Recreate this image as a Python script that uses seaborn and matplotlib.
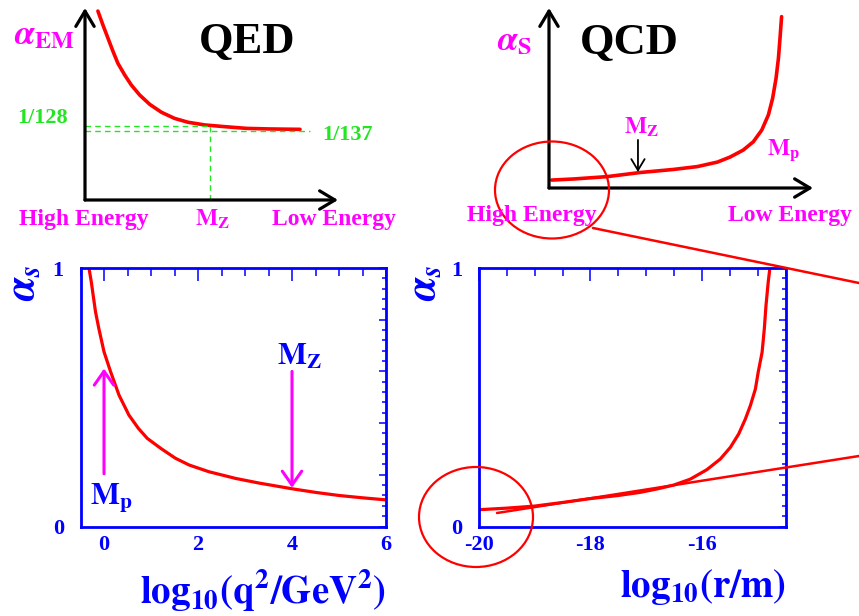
import numpy as np
import pandas as pd
import matplotlib
matplotlib.use("Agg")
import matplotlib.pyplot as plt
import seaborn as sns
from matplotlib.patches import Ellipse
from matplotlib.ticker import MultipleLocator, FixedLocator, FuncFormatter

# ---------------- data ----------------
# bottom-left: alpha_s vs log10(q^2/GeV^2)
q2_log = [-0.32, -0.27, -0.23, -0.18, -0.11, 0.0, 0.14, 0.32, 0.53, 0.73, 0.92, 1.21,
          1.52, 1.81, 2.23, 2.8, 3.3, 4.0, 4.5, 5.0, 5.5, 6.0]
alpha_q2 = [1.0, 0.946, 0.894, 0.83, 0.766, 0.676, 0.599, 0.508, 0.431, 0.38, 0.341, 0.302,
            0.264, 0.238, 0.212, 0.186, 0.168, 0.146, 0.132, 0.12, 0.111, 0.103]

# bottom-right: alpha_s vs log10(r/m)
r_log = [-20.0, -19.5, -19.0, -18.5, -18.0, -17.5, -17.11, -16.81, -16.51, -16.21, -15.91,
         -15.67, -15.49, -15.34, -15.22, -15.13, -15.04, -14.99, -14.92, -14.88, -14.85,
         -14.81, -14.78]
alpha_r = [0.065, 0.071, 0.079, 0.093, 0.108, 0.12, 0.132, 0.145, 0.160, 0.183, 0.220,
           0.261, 0.306, 0.358, 0.416, 0.468, 0.532, 0.597, 0.674, 0.765, 0.855,
           0.946, 1.0]

# top-left schematic (QED), arbitrary units
qed_x = [0.051, 0.071, 0.091, 0.111, 0.130, 0.157, 0.183, 0.216, 0.256, 0.302, 0.354,
         0.407, 0.473, 0.552, 0.639, 0.731, 0.85]
qed_y = [0.984, 0.911, 0.842, 0.773, 0.712, 0.651, 0.599, 0.547, 0.498, 0.457, 0.425,
         0.405, 0.391, 0.382, 0.373, 0.370, 0.368]
qed_level_128 = 0.385
qed_level_137 = 0.359
qed_mz = 0.494
qed_137_end = 0.89

# top-right schematic (QCD), arbitrary units
qcd_x = [0.010, 0.092, 0.219, 0.345, 0.471, 0.562, 0.638, 0.686, 0.736, 0.774, 0.806,
         0.831, 0.847, 0.860, 0.869, 0.875, 0.881]
qcd_y = [0.044, 0.05, 0.063, 0.086, 0.103, 0.119, 0.144, 0.172, 0.211, 0.257, 0.322,
         0.406, 0.498, 0.609, 0.72, 0.832, 0.952]

q2_ticks = [0, 2, 4, 6]
r_ticks = [-20, -18, -16]

# ---------------- style ----------------
sns.set_theme(style="white")
plt.rcParams['font.family'] = ['Liberation Serif', 'DejaVu Serif']
plt.rcParams['font.weight'] = 'bold'
plt.rcParams['mathtext.fontset'] = 'stix'

BLUE = '#0000ff'
RED = '#ff0000'
MAG = '#ff00ff'
GREEN = '#22e622'

W, H = 859, 616
fig = plt.figure(figsize=(W / 100, H / 100), dpi=100)
fig.patch.set_facecolor('white')


def frac(l, t, r, b):
    return [l / W, 1 - b / H, (r - l) / W, (b - t) / H]


ax_qed = fig.add_axes(frac(85, 8, 338, 200))
ax_qcd = fig.add_axes(frac(549, 8, 813, 188))
ax_q2 = fig.add_axes(frac(80.5, 268, 386, 526.5))
ax_r = fig.add_axes(frac(479, 268, 785.5, 526.5))

# ---------------- schematic panels ----------------
arrow_kw = dict(arrowstyle='->,head_length=0.5,head_width=0.3', lw=2.3, color='black',
                mutation_scale=22, shrinkA=0, shrinkB=0)
for ax in (ax_qed, ax_qcd):
    ax.set_xlim(0, 1)
    ax.set_ylim(0, 1)
    ax.axis('off')
    ax.annotate('', xy=(0, 1), xytext=(0, 0), arrowprops=arrow_kw, annotation_clip=False)
    ax.annotate('', xy=(1, 0), xytext=(0, 0), arrowprops=arrow_kw, annotation_clip=False)

sns.lineplot(x=qed_x, y=qed_y, ax=ax_qed, color=RED, lw=2.6, estimator=None, sort=False)
dash = (0, (4, 3))
ax_qed.plot([0, qed_mz], [qed_level_128] * 2, color=GREEN, lw=1, ls=dash)
ax_qed.plot([0, qed_137_end], [qed_level_137] * 2, color=GREEN, lw=1, ls=dash)
ax_qed.plot([qed_mz, qed_mz], [0, qed_level_128], color=GREEN, lw=1, ls=dash)
ax_qed.set_xlim(0, 1)
ax_qed.set_ylim(0, 1)

sns.lineplot(x=qcd_x, y=qcd_y, ax=ax_qcd, color=RED, lw=2.6, estimator=None, sort=False)
ax_qcd.annotate('', xy=(0.337, 0.089), xytext=(0.337, 0.267),
                arrowprops=dict(arrowstyle='->,head_length=0.5,head_width=0.3', lw=1.3,
                                color='black', mutation_scale=16, shrinkA=0, shrinkB=0))
ax_qcd.set_xlim(0, 1)
ax_qcd.set_ylim(0, 1)

# ---------------- real panels ----------------
sns.lineplot(x=q2_log, y=alpha_q2, ax=ax_q2, color=RED, lw=2.3, estimator=None)
sns.lineplot(x=r_log, y=alpha_r, ax=ax_r, color=RED, lw=2.3, estimator=None)

ax_q2.set_xlim(-0.5, 6)
ax_r.set_xlim(-20, -14.5)
for ax, ticks in ((ax_q2, q2_ticks), (ax_r, r_ticks)):
    ax.set_ylim(0, 1)
    ax.xaxis.set_major_locator(FixedLocator(ticks))
    ax.xaxis.set_minor_locator(MultipleLocator(0.5))
    ax.yaxis.set_major_locator(MultipleLocator(0.2))
    ax.yaxis.set_minor_locator(MultipleLocator(0.04))
    ax.yaxis.set_major_formatter(FuncFormatter(
        lambda v, p: ('%d' % round(v)) if abs(v - round(v)) < 1e-6 else ''))
    ax.xaxis.set_major_formatter(FuncFormatter(lambda v, p: '%d' % round(v)))
    for s in ax.spines.values():
        s.set_color(BLUE)
        s.set_linewidth(2.0)
        s.set_visible(True)
    ax.tick_params(which='both', direction='in', top=True, right=True, color=BLUE,
                   width=1.1, labelcolor=BLUE, labelsize=16)
    ax.tick_params(axis='x', which='major', length=9.4, pad=6)
    ax.tick_params(axis='x', which='minor', length=5.8)
    ax.tick_params(axis='y', which='major', length=5, pad=12)
    ax.tick_params(axis='y', which='minor', length=2.9)
    ax.set_ylabel('')
    ax.grid(False)

ax_q2.set_xlabel(r'$\mathbf{log_{10}(q^{2}/GeV^{2})}$', fontsize=28, color=BLUE,
                 loc='right', labelpad=9)
ax_r.set_xlabel(r'$\mathbf{log_{10}(r/m)}$', fontsize=28, color=BLUE,
                loc='right', labelpad=9)

# arrows inside bottom-left panel
mag_arrow = dict(arrowstyle='->,head_length=0.5,head_width=0.35', lw=2.2, color=MAG,
                 mutation_scale=20, shrinkA=0, shrinkB=0)
ax_q2.annotate('', xy=(0, 0.611), xytext=(0, 0.204), arrowprops=mag_arrow)
ax_q2.annotate('', xy=(4, 0.15), xytext=(4, 0.60), arrowprops=mag_arrow)
ax_q2.text(0.15, 0.11, r'$\mathbf{M_p}$', fontsize=22, color=BLUE, ha='center', va='center')
ax_q2.text(4.15, 0.655, r'$\mathbf{M_Z}$', fontsize=22, color=BLUE, ha='center', va='center')

# ---------------- overlay (figure pixel coords) ----------------
ov = fig.add_axes([0, 0, 1, 1])
ov.set_xlim(0, W)
ov.set_ylim(H, 0)
ov.axis('off')

# y labels of real panels
ov.text(24, 283, r'$\alpha_{s}$', fontsize=30, color=BLUE, rotation=90, ha='center', va='center')
ov.text(425, 283, r'$\alpha_{s}$', fontsize=30, color=BLUE, rotation=90, ha='center', va='center')

# QED labels
ov.text(247, 42, 'QED', fontsize=32, color='black', ha='center', va='center')
ov.text(14, 36, r'$\alpha_{\mathbf{EM}}$', fontsize=25, color=MAG, ha='left', va='center')
ov.text(43, 118, '1/128', fontsize=16, color=GREEN, ha='center', va='center')
ov.text(347, 135, '1/137', fontsize=16, color=GREEN, ha='center', va='center')
ov.text(84, 220, 'High Energy', fontsize=17, color=MAG, ha='center', va='center')
ov.text(213, 219, r'$\mathbf{M_Z}$', fontsize=17, color=MAG, ha='center', va='center')
ov.text(334, 220, 'Low Energy', fontsize=17, color=MAG, ha='center', va='center')

# QCD labels
ov.text(629, 43, 'QCD', fontsize=32, color='black', ha='center', va='center')
ov.text(497, 42, r'$\alpha_{\mathbf{S}}$', fontsize=25, color=MAG, ha='left', va='center')
ov.text(642, 127, r'$\mathbf{M_Z}$', fontsize=17, color=MAG, ha='center', va='center')
ov.text(784, 150, r'$\mathbf{M_p}$', fontsize=17, color=MAG, ha='center', va='center')
ov.text(532, 215, 'High Energy', fontsize=17, color=MAG, ha='center', va='center')
ov.text(790, 215, 'Low Energy', fontsize=17, color=MAG, ha='center', va='center')

# zoom circles and connecting lines
circle_top = dict(xy=(552, 190), width=114, height=97)
circle_bot = dict(xy=(476, 517), width=114, height=100)
for c in (circle_top, circle_bot):
    ov.add_patch(Ellipse(c['xy'], c['width'], c['height'], fill=False, ec=RED, lw=1.6))
line_upper = ([593, 859], [228, 283])
line_lower = ([497, 859], [513, 456])
ov.plot(*line_upper, color=RED, lw=1.8)
ov.plot(*line_lower, color=RED, lw=1.8)

fig.savefig('out.png', dpi=100)
